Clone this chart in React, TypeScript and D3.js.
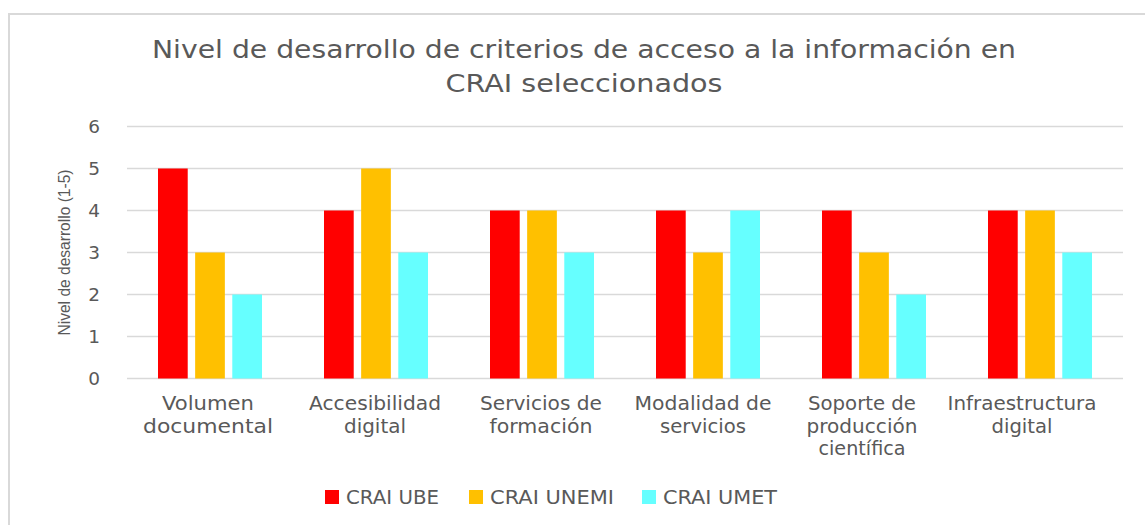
import React from "react";
import * as d3 from "d3";

const categories: string[][] = [
  ["Volumen", "documental"],
  ["Accesibilidad", "digital"],
  ["Servicios de", "formación"],
  ["Modalidad de", "servicios"],
  ["Soporte de", "producción", "científica"],
  ["Infraestructura", "digital"],
];
const seriesNames = ["CRAI UBE", "CRAI UNEMI", "CRAI UMET"];
const ube = [5, 4, 4, 4, 4, 4];
const unemi = [3, 5, 4, 3, 3, 4];
const umet = [2, 3, 3, 4, 2, 3];
const yTicks = [0, 1, 2, 3, 4, 5, 6];
const colors = ["#FF0000", "#FFC000", "#66FFFF"];
const titleLines = [
  "Nivel de desarrollo de criterios de acceso a la información en",
  "CRAI seleccionados",
];
const yLabel = "Nivel de desarrollo (1-5)";

// layout / style constants
const W = 1145;
const H = 525;
const plotLeft = 127;
const plotRight = 1123;
const plotTop = 126.5;
const plotBottom = 378.5;
const textColor = "#595959";
const font = "DejaVu Sans";
const titleWidths = [864, 277];
const labelWidths: number[][] = [
  [92, 130],
  [132, 62],
  [122, 103],
  [137, 86],
  [108, 111, 87],
  [149, 61],
];
const labelDx = [-2, -1, -1, -5, -12, -18];
const legendWidths = [93, 124, 114];
const legendSquares = [325, 469, 642];

export default function App() {
  const series = [ube, unemi, umet];
  const x0 = d3
    .scaleBand<number>()
    .domain(categories.map((_, i) => i))
    .range([plotLeft, plotRight]);
  const x1 = d3
    .scaleBand<number>()
    .domain([0, 1, 2])
    .range([0, 104])
    .paddingInner(0.2);
  const y = d3.scaleLinear().domain([0, 6]).range([plotBottom, plotTop]);
  const groupOffset = (x0.bandwidth() - 104) / 2;

  return (
    <svg
      width={W}
      height={H}
      style={{ position: "absolute", left: 0, top: 0, background: "#fff" }}
    >
      <rect x={0} y={0} width={W} height={H} fill="#fff" />
      <rect
        x={9}
        y={14}
        width={W + 20}
        height={H + 20}
        fill="none"
        stroke="#d9d9d9"
        strokeWidth={2}
      />
      {titleLines.map((ln, i) => (
        <text
          key={"title" + i}
          x={584 - titleWidths[i] / 2}
          y={58 + i * 33.5}
          fill={textColor}
          fontFamily={font}
          fontSize={24}
          textLength={titleWidths[i]}
          lengthAdjust="spacingAndGlyphs"
        >
          {ln}
        </text>
      ))}
      {yTicks.map((t) => (
        <line
          key={t}
          x1={plotLeft}
          x2={plotRight}
          y1={y(t)}
          y2={y(t)}
          stroke="#d9d9d9"
          strokeWidth={1.5}
        />
      ))}
      {yTicks.map((t) => (
        <text
          key={"t" + t}
          x={100}
          y={y(t) + 6.5}
          textAnchor="end"
          fill={textColor}
          fontFamily={font}
          fontSize={18.5}
        >
          {t}
        </text>
      ))}
      <text
        transform={`translate(70, ${(plotTop + plotBottom) / 2}) rotate(-90)`}
        x={-83}
        y={0}
        fill={textColor}
        fontFamily="Liberation Sans"
        fontSize={16}
        textLength={166}
        lengthAdjust="spacingAndGlyphs"
      >
        {yLabel}
      </text>
      {categories.map((_, ci) =>
        series.map((vals, si) => (
          <rect
            key={ci + "-" + si}
            x={(x0(ci) as number) + groupOffset + (x1(si) as number)}
            y={y(vals[ci])}
            width={x1.bandwidth()}
            height={plotBottom - y(vals[ci])}
            fill={colors[si]}
          />
        ))
      )}
      {categories.map((lines, ci) =>
        lines.map((ln, li) => {
          const cx = (x0(ci) as number) + x0.bandwidth() / 2 + labelDx[ci];
          const w = labelWidths[ci][li];
          return (
            <text
              key={"c" + ci + "-" + li}
              x={cx - w / 2}
              y={410 + li * 22.5}
              fill={textColor}
              fontFamily={font}
              fontSize={19}
              textLength={w}
              lengthAdjust="spacingAndGlyphs"
            >
              {ln}
            </text>
          );
        })
      )}
      {seriesNames.map((name, i) => (
        <g key={name}>
          <rect
            x={legendSquares[i]}
            y={490}
            width={14}
            height={14}
            fill={colors[i]}
          />
          <text
            x={legendSquares[i] + 21}
            y={504}
            fill={textColor}
            fontFamily={font}
            fontSize={19}
            textLength={legendWidths[i]}
            lengthAdjust="spacingAndGlyphs"
          >
            {name}
          </text>
        </g>
      ))}
    </svg>
  );
}
